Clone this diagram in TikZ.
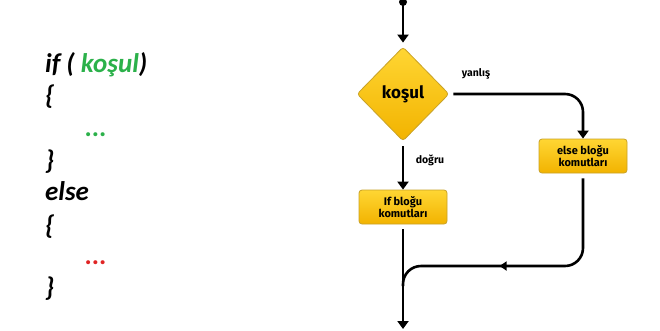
\documentclass[tikz,border=0pt]{standalone}
\usepackage{fontspec}
\setmainfont{Carlito}
\newfontfamily\flowfont{Fira Sans}
\usetikzlibrary{shapes.geometric,arrows.meta,decorations.markings}
\definecolor{condgreen}{HTML}{2BB14A}
\definecolor{dotred}{HTML}{E02424}
\definecolor{boxtop}{HTML}{FFD633}
\definecolor{boxbot}{HTML}{F2B300}
\definecolor{boxedge}{HTML}{C9A227}
\tikzset{
  code/.style={anchor=base west, inner sep=0pt, font=\fontsize{27}{27}\selectfont\bfseries\itshape},
  flowline/.style={line width=2.6pt, black},
  arr/.style={flowline, -{Triangle[width=11pt,length=8pt]}},
  decision/.style={diamond, aspect=1, minimum width=92pt, minimum height=94pt, inner sep=0pt,
    draw=boxedge, line width=0.8pt, top color=boxtop, bottom color=boxbot,
    rounded corners=3pt, font=\flowfont\bfseries\fontsize{17}{17}\selectfont},
  blockbox/.style={rectangle, rounded corners=3pt, minimum width=88pt, minimum height=34pt,
    draw=boxedge, line width=0.8pt, top color=boxtop, bottom color=boxbot, inner sep=1pt,
    align=center, font=\flowfont\bfseries\fontsize{11}{12}\selectfont},
  lbl/.style={font=\flowfont\bfseries\fontsize{10.5}{11}\selectfont, inner sep=0pt}
}
\begin{document}
\begin{tikzpicture}[x=1pt,y=-1pt]
  \useasboundingbox (0,0) rectangle (660,330);
  \fill[white] (0,0) rectangle (660,330);

  % source text of the if/else statement
  \node[code] (l1) at (45,72) {if ( \textcolor{condgreen}{koşul})};
  \node[code] (l2) at (45,104) {\{};
  \node[code, text=condgreen] (l3) at (85,136) {...};
  \node[code] (l4) at (45,169) {\}};
  \node[code] (l5) at (45,200) {else};
  \node[code] (l6) at (45,234) {\{};
  \node[code, text=dotred] (l7) at (85,264) {...};
  \node[code] (l8) at (45,296) {\}};

  % flowchart
  \coordinate (start) at (403,2);
  \coordinate (finish) at (403,329);
  \coordinate (join) at (403,266);
  \node[decision] (cond) at (403,94) {koşul};
  \node[blockbox] (ifb) at (403,207) {If bloğu\\komutları};
  \node[blockbox] (elseb) at (583,156) {else bloğu\\komutları};

  \fill (start) circle (4pt);
  \draw[arr] (start) -- ([yshift=4pt]cond.north);
  \draw[arr] ([yshift=-5pt]cond.south) -- (ifb.north);
  \draw[arr, rounded corners=18pt] ([xshift=4pt]cond.east) -| (elseb.north);
  \draw[arr] ([yshift=-5pt]ifb.south) -- (finish);
  \draw[flowline, rounded corners=18pt,
        postaction={decorate},
        decoration={markings, mark=at position 0.6 with {\arrow{Triangle[width=9pt,length=7pt]}}}]
    ([yshift=-5pt]elseb.south) |- (join) -- ++(0,20);

  \node[lbl] (yl) at (476,74) {yanlış};
  \node[lbl] (dl) at (430,160) {doğru};
\end{tikzpicture}
\end{document}
